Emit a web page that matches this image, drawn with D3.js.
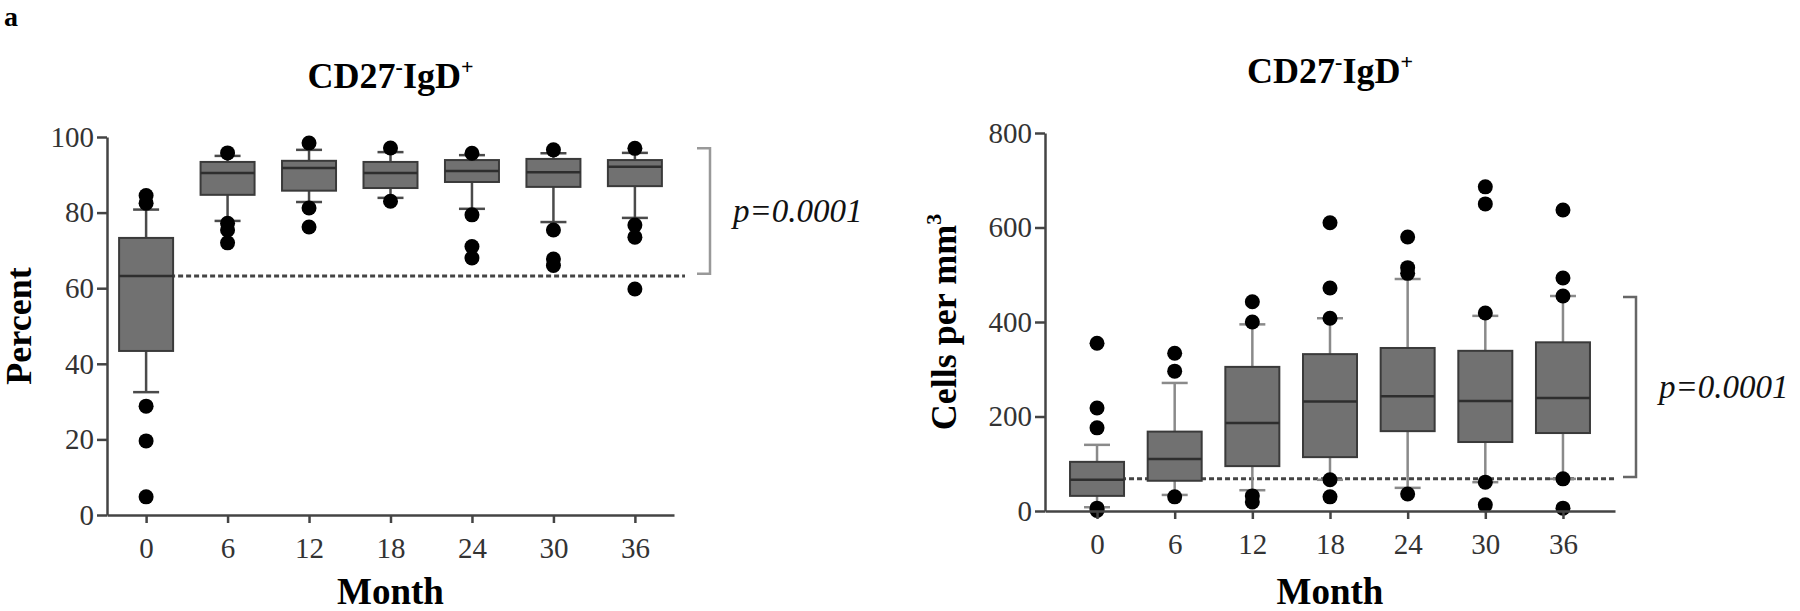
<!DOCTYPE html>
<html>
<head>
<meta charset="utf-8">
<script src="https://cdn.jsdelivr.net/npm/d3@7"></script>
<style>
  body { margin: 0; background: #fff; }
  text { font-family: "Liberation Serif", "Times New Roman", serif; }
</style>
</head>
<body>
<script>
// shared categories
var months = ["0", "6", "12", "18", "24", "30", "36"];

// left panel: percent
var pctTicks = [0, 20, 40, 60, 80, 100];
var pctQ1 = [43.4, 84.7, 85.8, 86.5, 88.1, 86.8, 87.0];
var pctMedian = [63.2, 90.5, 91.8, 90.5, 91.0, 90.7, 92.1];
var pctQ3 = [73.3, 93.4, 93.7, 93.4, 93.9, 94.2, 93.9];
var pctLow = [32.5, 77.8, 82.8, 83.9, 81.0, 77.5, 78.6];
var pctHigh = [80.8, 95.0, 96.6, 96.0, 95.2, 95.7, 95.8];
var pctOutliers = [
  [84.5, 82.5, 28.8, 19.6, 4.8],
  [95.8, 77.2, 75.4, 72.0],
  [98.4, 81.2, 76.2],
  [97.1, 83.0],
  [95.7, 79.4, 71.0, 68.0],
  [96.6, 75.4, 67.7, 66.0],
  [97.0, 76.7, 73.5, 59.8]
];
var pctRef = 63.2;
var pctBracket = [63.8, 97];

// right panel: cells per mm3
var cellTicks = [0, 200, 400, 600, 800];
var cellQ1 = [32, 64, 95, 114, 169, 146, 165];
var cellMedian = [66, 110, 186, 232, 243, 233, 239];
var cellQ3 = [104, 168, 305, 332, 345, 339, 357];
var cellLow = [8, 34, 44, 66, 49, 61, 68];
var cellHigh = [140, 271, 395, 408, 491, 413, 455];
var cellOutliers = [
  [355, 218, 176, 6, 1],
  [334, 296, 30],
  [443, 400, 32, 19],
  [610, 472, 408, 66, 30],
  [580, 515, 503, 36],
  [686, 650, 419, 61, 13],
  [637, 493, 455, 68, 6]
];
var cellRef = 68;
var cellBracket = [72, 453];

var pLabel = "p=0.0001";

var svg = d3.select("body").append("svg")
  .attr("width", 1800)
  .attr("height", 611);

svg.append("text")
  .attr("x", 4).attr("y", 26)
  .attr("font-size", 28).attr("font-weight", "bold")
  .text("a");

function panel(opt) {
  var x = d3.scalePoint().domain(months).range(opt.xr).padding(opt.pad);
  var y = d3.scaleLinear().domain([0, opt.ticks[opt.ticks.length - 1]]).range(opt.yr);
  var g = svg.append("g");
  var bw = 54, cw = 26;

  var rows = months.map(function (m, i) {
    return { m: m, q1: opt.q1[i], med: opt.med[i], q3: opt.q3[i], lo: opt.lo[i], hi: opt.hi[i], out: opt.out[i] };
  });

  // reference dashed line, under the boxes
  g.append("line")
    .attr("x1", x(months[0])).attr("x2", opt.refEnd)
    .attr("y1", y(opt.ref)).attr("y2", y(opt.ref))
    .attr("stroke", "#444").attr("stroke-width", 3)
    .attr("stroke-dasharray", "5,3");

  var b = g.selectAll(".bx").data(rows).enter().append("g").attr("class", "bx");
  // whiskers
  b.append("line")
    .attr("x1", function (d) { return x(d.m); }).attr("x2", function (d) { return x(d.m); })
    .attr("y1", function (d) { return y(d.hi); }).attr("y2", function (d) { return y(d.lo); })
    .attr("stroke", opt.whisk).attr("stroke-width", 2.5);
  b.selectAll(".cap").data(function (d) { return [[d.m, d.hi], [d.m, d.lo]]; }).enter()
    .append("line")
    .attr("x1", function (d) { return x(d[0]) - cw / 2; }).attr("x2", function (d) { return x(d[0]) + cw / 2; })
    .attr("y1", function (d) { return y(d[1]); }).attr("y2", function (d) { return y(d[1]); })
    .attr("stroke", opt.whisk).attr("stroke-width", 2.5);
  b.append("rect")
    .attr("x", function (d) { return x(d.m) - bw / 2; })
    .attr("width", bw)
    .attr("y", function (d) { return y(d.q3); })
    .attr("height", function (d) { return y(d.q1) - y(d.q3); })
    .attr("fill", "#717171").attr("stroke", "#3a3a3a").attr("stroke-width", 2);
  b.append("line")
    .attr("x1", function (d) { return x(d.m) - bw / 2; }).attr("x2", function (d) { return x(d.m) + bw / 2; })
    .attr("y1", function (d) { return y(d.med); }).attr("y2", function (d) { return y(d.med); })
    .attr("stroke", "#2e2e2e").attr("stroke-width", 2.5);
  b.selectAll("circle").data(function (d) { return d.out.map(function (v) { return [d.m, v]; }); }).enter()
    .append("circle")
    .attr("cx", function (d) { return x(d[0]); })
    .attr("cy", function (d) { return y(d[1]); })
    .attr("r", 7.5).attr("fill", "#000");

  // axes
  var ya = g.append("g").attr("transform", "translate(" + opt.xr[0] + ",0)")
    .call(d3.axisLeft(y).tickValues(opt.ticks).tickSize(10).tickSizeOuter(0).tickPadding(3));
  var xa = g.append("g").attr("transform", "translate(0," + opt.yr[0] + ")")
    .call(d3.axisBottom(x).tickSize(8).tickSizeOuter(0).tickPadding(14));
  [ya, xa].forEach(function (a) {
    a.select(".domain").attr("stroke", "#444").attr("stroke-width", 2.5);
    a.selectAll(".tick line").attr("stroke", "#444").attr("stroke-width", 2.5);
    a.selectAll(".tick text").attr("font-size", 29).attr("fill", "#333")
      .attr("font-family", "Liberation Serif");
  });

  var cx = (opt.xr[0] + opt.xr[1]) / 2;
  var cy = (opt.yr[0] + opt.yr[1]) / 2;

  var t = g.append("text").attr("x", cx).attr("y", opt.titleY)
    .attr("text-anchor", "middle").attr("font-size", 36).attr("font-weight", "bold");
  t.append("tspan").text("CD27");
  t.append("tspan").attr("font-size", 22).attr("dy", -14).text("-");
  t.append("tspan").attr("dy", 14).text("IgD");
  t.append("tspan").attr("font-size", 22).attr("dy", -14).text("+");

  g.append("text").attr("x", cx).attr("y", 604)
    .attr("text-anchor", "middle").attr("font-size", 37).attr("font-weight", "bold")
    .text("Month");

  var yt = g.append("text")
    .attr("transform", "translate(" + opt.ytX + "," + cy + ") rotate(-90)")
    .attr("text-anchor", "middle").attr("font-size", 36).attr("font-weight", "bold");
  yt.append("tspan").text(opt.yTitle);
  if (opt.ySup) yt.append("tspan").attr("font-size", 22).attr("dy", -15).text(opt.ySup);

  // significance bracket
  var bx = opt.bracketX, b0 = y(opt.bracket[0]), b1 = y(opt.bracket[1]);
  g.append("path")
    .attr("d", "M" + (bx - 13) + "," + b1 + "H" + bx + "V" + b0 + "H" + (bx - 13))
    .attr("fill", "none").attr("stroke", opt.bracketColor).attr("stroke-width", 2.5);
  g.append("text").attr("x", bx + 23).attr("y", (b0 + b1) / 2 + 11)
    .attr("font-size", 33).attr("font-style", "italic").attr("fill", "#111")
    .text(pLabel);
}

panel({
  xr: [107, 674], yr: [515, 137], pad: 0.48, ticks: pctTicks,
  q1: pctQ1, med: pctMedian, q3: pctQ3, lo: pctLow, hi: pctHigh, out: pctOutliers,
  ref: pctRef, refEnd: 685, bracket: pctBracket, bracketX: 710, bracketColor: "#999",
  whisk: "#4a4a4a", titleY: 88, yTitle: "Percent", ytX: 31
});

panel({
  xr: [1045, 1615], yr: [511, 133], pad: 0.67, ticks: cellTicks,
  q1: cellQ1, med: cellMedian, q3: cellQ3, lo: cellLow, hi: cellHigh, out: cellOutliers,
  ref: cellRef, refEnd: 1617, bracket: cellBracket, bracketX: 1636, bracketColor: "#666",
  whisk: "#8a8a8a", titleY: 83, yTitle: "Cells per mm", ySup: "3", ytX: 956
});
</script>
</body>
</html>
